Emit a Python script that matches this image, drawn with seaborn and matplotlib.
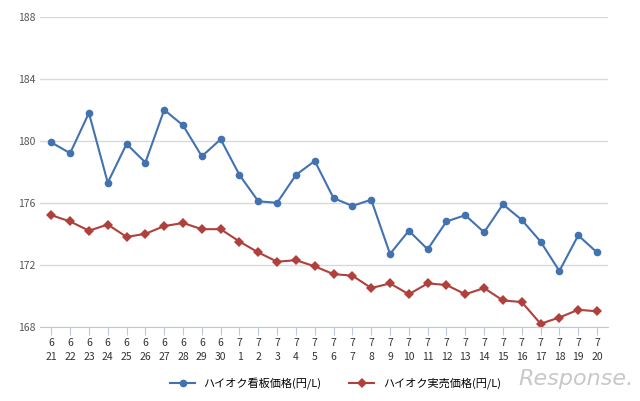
import matplotlib.pyplot as plt
import seaborn as sns
import pandas as pd

dates = [f"6\n{d}" for d in range(21, 31)] + [f"7\n{d}" for d in range(1, 21)]
kanban = [179.9, 179.2, 181.8, 177.3, 179.8, 178.6, 182.0, 181.0, 179.0, 180.1,
          177.8, 176.1, 176.0, 177.8, 178.7, 176.3, 175.8, 176.2, 172.7, 174.2,
          173.0, 174.8, 175.2, 174.1, 175.9, 174.9, 173.5, 171.6, 173.9, 172.8]
jitsubai = [175.2, 174.8, 174.2, 174.6, 173.8, 174.0, 174.5, 174.7, 174.3, 174.3,
            173.5, 172.8, 172.2, 172.3, 171.9, 171.4, 171.3, 170.5, 170.8, 170.1,
            170.8, 170.7, 170.1, 170.5, 169.7, 169.6, 168.2, 168.6, 169.1, 169.0]
names = ["ハイオク看板価格(円/L)", "ハイオク実売価格(円/L)"]

plt.rcParams["font.family"] = "Noto Sans CJK JP"
df = pd.DataFrame({"x": list(range(len(dates))) * 2,
                   "price": kanban + jitsubai,
                   "series": [names[0]] * len(dates) + [names[1]] * len(dates)})

fig = plt.figure(figsize=(6.4, 4.01), dpi=100)
ax = fig.add_axes([0.0625, 0.185, 0.888, 0.773])
sns.lineplot(data=df, x="x", y="price", hue="series", style="series",
             palette=["#4272b0", "#b0403c"], markers=["o", "D"], dashes=False,
             markersize=5.5, markeredgewidth=0, linewidth=1.5, ax=ax)
ax.set_xlim(-0.6, len(dates) - 0.4)
ax.set_ylim(168, 188)
ax.set_yticks(range(168, 189, 4))
ax.set_xticks(range(len(dates)))
ax.set_xticklabels(dates, fontsize=7.5, color="#333333", linespacing=1.5)
ax.tick_params(axis="y", length=0, labelsize=7.5, labelcolor="#555555")
ax.tick_params(axis="x", length=6, color="#bcc9dc", direction="out", pad=2)
ax.grid(axis="y", color="#d9d9d9", linewidth=1)
ax.set_axisbelow(True)
for s in ["top", "right", "left"]:
    ax.spines[s].set_visible(False)
ax.spines["bottom"].set_color("#bcc9dc")
ax.set_xlabel("")
ax.set_ylabel("")
ax.legend(loc="upper center", bbox_to_anchor=(0.52, -0.13), ncol=2, frameon=False,
          fontsize=8, handlelength=2.2, columnspacing=2.5)
fig.text(0.9, 0.04, "Response.", fontsize=16, style="italic", color="#c8c8c8",
         ha="center", fontfamily="DejaVu Sans")
fig.savefig("out.png", dpi=100)
